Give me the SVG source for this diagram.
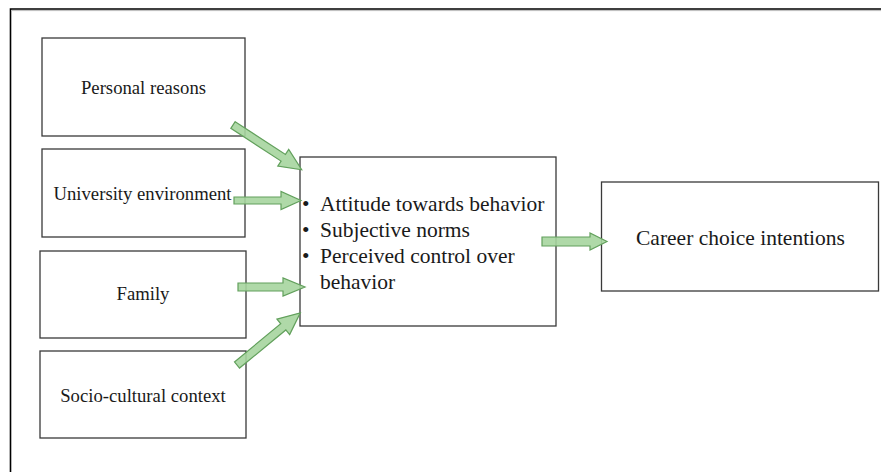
<svg xmlns="http://www.w3.org/2000/svg" width="881" height="472" viewBox="0 0 881 472">
<style>
.box{fill:#fff;stroke:#3a3a3a;stroke-width:1.3}
.lbl{font-family:"Liberation Serif","Times New Roman",serif;font-size:18.7px;fill:#1a1a1a;text-anchor:middle}
.big{font-family:"Liberation Serif","Times New Roman",serif;font-size:21.5px;fill:#1a1a1a}
.arr{fill:#a6d59f;fill-opacity:0.9;stroke:#62a05c;stroke-width:1.2;stroke-linejoin:miter}
.frame{stroke:#000;stroke-width:1.6;fill:none}
</style>
<rect width="881" height="472" fill="#fff"/>
<path class="frame" d="M10.5,472 V9 H881"/>
<line x1="11" y1="10.6" x2="881" y2="10.6" stroke="#bbb" stroke-width="1"/>

<g id="personal">
<rect class="box" x="42" y="38" width="203" height="98"/>
<text class="lbl" x="143.5" y="94">Personal reasons</text>
</g>
<g id="university">
<rect class="box" x="42" y="149" width="203" height="88"/>
<text class="lbl" x="142.5" y="200">University environment</text>
</g>
<g id="family">
<rect class="box" x="40" y="251" width="206" height="87"/>
<text class="lbl" x="143" y="300">Family</text>
</g>
<g id="socio">
<rect class="box" x="40" y="351" width="206" height="87"/>
<text class="lbl" x="143" y="402">Socio-cultural context</text>
</g>
<g id="factors">
<rect class="box" x="300" y="157" width="256" height="169"/>
<text class="big" x="302" y="211">•</text>
<text class="big" x="320" y="211">Attitude towards behavior</text>
<text class="big" x="302" y="237">•</text>
<text class="big" x="320" y="237">Subjective norms</text>
<text class="big" x="302" y="263">•</text>
<text class="big" x="320" y="263">Perceived control over</text>
<text class="big" x="320" y="289">behavior</text>
</g>
<g id="career">
<rect class="box" x="601.5" y="182" width="277" height="109"/>
<text class="big" x="740.5" y="245" text-anchor="middle">Career choice intentions</text>
</g>

<g id="connectors">
<polygon class="arr" transform="translate(233,125) rotate(33.1)" points="0,-4 60,-4 60,-10 82,0 60,10 60,4 0,4"/>
<polygon class="arr" transform="translate(234,200.5) rotate(0)" points="0,-3.5 47,-3.5 47,-9 67,0 47,9 47,3.5 0,3.5"/>
<polygon class="arr" transform="translate(238,287) rotate(0)" points="0,-4 45,-4 45,-9 67,0 45,9 45,4 0,4"/>
<polygon class="arr" transform="translate(237,365) rotate(-39.5)" points="0,-4 60,-4 60,-10 82,0 60,10 60,4 0,4"/>
<polygon class="arr" transform="translate(542,241.5) rotate(0)" points="0,-4.5 48,-4.5 48,-8.5 65,0 48,8.5 48,4.5 0,4.5"/>
</g>
</svg>
